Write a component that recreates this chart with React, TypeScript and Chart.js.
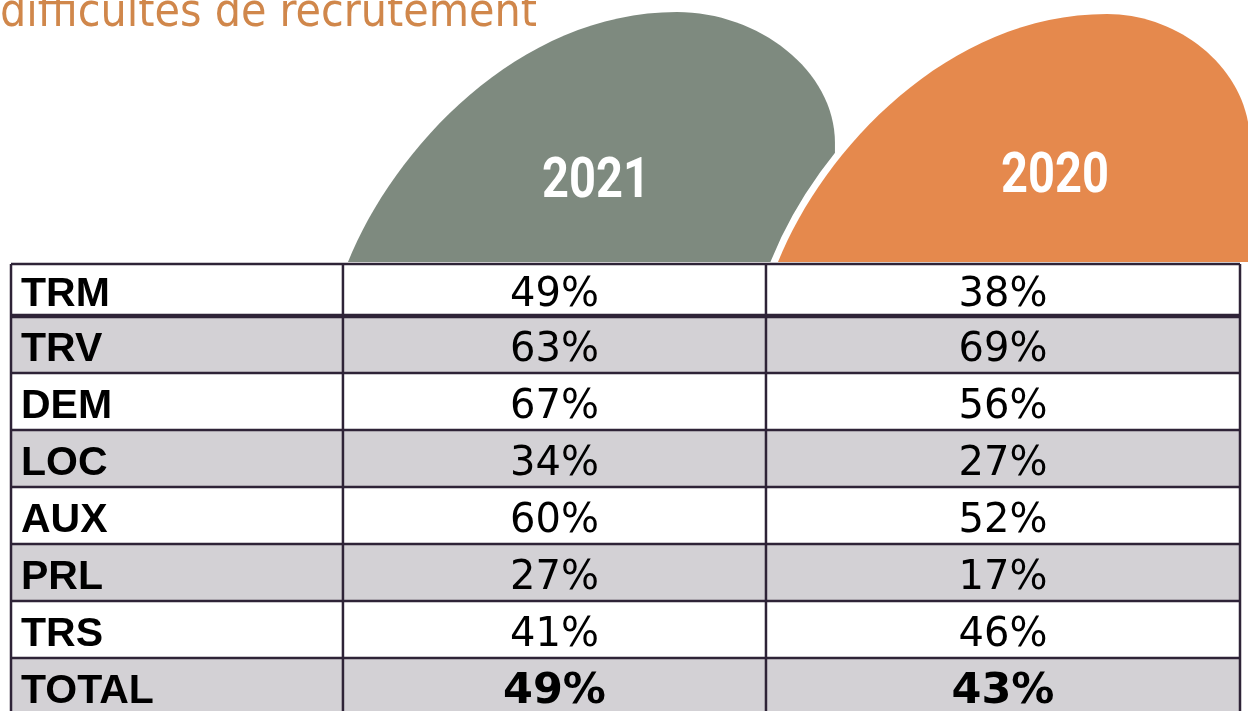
import { useEffect, useRef } from 'react';
import { Chart, registerables } from 'chart.js';

Chart.register(...registerables);

// ---- data ----
const TITLE = 'difficultés de recrutement';
const YEARS = ['2021', '2020'];
const ROW_LABELS = ['TRM', 'TRV', 'DEM', 'LOC', 'AUX', 'PRL', 'TRS', 'TOTAL'];
const VALUES_2021 = [49, 63, 67, 34, 60, 27, 41, 49];
const VALUES_2020 = [38, 69, 56, 27, 52, 17, 46, 43];
const SERIES = [VALUES_2021, VALUES_2020];

// ---- layout / style ----
const W = 1248;
const H = 722;
const COLUMN_EDGES = [0, 0.2701, 0.6143, 1]; // fractions of table width (x scale 0..1)
const TOP_TRIM = 0.088; // first row is partly covered by header shapes
const ROW_FILLS = ['#FFFFFF', '#D3D1D5'];
const BORDER = '#2E2337';
const TITLE_COLOR = '#D0874B';
const BLOB_BASE = 262;
const BLOBS = [
  { col: 1, dx: 5, peakY: 12, rightMax: 487, labelDx: 248, labelBase: 197, color: '#7E8A7F', outline: false },
  { col: 2, dx: 12, peakY: 14, rightMax: 472, labelDx: 277, labelBase: 192, color: '#E5894D', outline: true },
];

function blobPath(ctx: CanvasRenderingContext2D, x0: number, base: number, peakY: number, rightMax: number) {
  const px = x0 + 329;
  const k = (rightMax - 329) / 158;
  const r = (v: number) => px + (v - 329) * k;
  ctx.beginPath();
  ctx.moveTo(x0, base);
  ctx.bezierCurveTo(x0 + 45, 150, x0 + 170, peakY, px, peakY);
  ctx.bezierCurveTo(r(410), peakY, r(487), 70, r(487), 143);
  ctx.bezierCurveTo(r(487), 200, r(487), 240, r(485), base);
  ctx.closePath();
}

const tablePlugin = {
  id: 'tablePlugin',
  afterDraw(chart: any) {
    const ctx: CanvasRenderingContext2D = chart.ctx;
    const xs = chart.scales.x;
    const ys = chart.scales.y;
    const area = chart.chartArea;
    ctx.save();
    ctx.fillStyle = '#FFFFFF';
    ctx.fillRect(0, 0, W, H);

    // title
    ctx.fillStyle = TITLE_COLOR;
    ctx.font = '46px "DejaVu Sans Condensed", "DejaVu Sans", Verdana, sans-serif';
    ctx.textAlign = 'left';
    ctx.textBaseline = 'alphabetic';
    ctx.fillText(TITLE, 0, 26);

    const colPx = COLUMN_EDGES.map((e) => xs.getPixelForValue(e));

    // header shapes
    ctx.save();
    ctx.beginPath();
    ctx.rect(0, 0, W, BLOB_BASE + 0.5);
    ctx.clip();
    BLOBS.forEach((b, i) => {
      const x0 = colPx[b.col] + b.dx;
      blobPath(ctx, x0, BLOB_BASE, b.peakY, b.rightMax);
      if (b.outline) {
        ctx.strokeStyle = '#FFFFFF';
        ctx.lineWidth = 14;
        ctx.stroke();
      }
      ctx.fillStyle = b.color;
      ctx.fill();
      ctx.save();
      ctx.translate(x0 + b.labelDx, b.labelBase);
      ctx.scale(0.84, 1);
      ctx.fillStyle = '#FFFFFF';
      ctx.font = 'bold 56px Roboto, "DejaVu Sans", sans-serif';
      ctx.textAlign = 'center';
      ctx.fillText(YEARS[i], 0, 0);
      ctx.restore();
    });
    ctx.restore();

    // cells
    const rowTop = (i: number) => ys.getPixelForValue(Math.max(i, TOP_TRIM));
    const rowBot = (i: number) => ys.getPixelForValue(i + 1);
    ROW_LABELS.forEach((label, i) => {
      const t = rowTop(i);
      const bt = rowBot(i);
      ctx.fillStyle = ROW_FILLS[i % 2];
      ctx.fillRect(area.left, t, area.right - area.left, bt - t);
    });

    // borders
    ctx.strokeStyle = BORDER;
    for (let i = 1; i < ROW_LABELS.length; i++) {
      const y = ys.getPixelForValue(i);
      ctx.lineWidth = i === 1 ? 4.5 : 2.5;
      ctx.beginPath();
      ctx.moveTo(area.left, y);
      ctx.lineTo(area.right, y);
      ctx.stroke();
    }
    ctx.lineWidth = 2.5;
    ctx.beginPath();
    ctx.moveTo(area.left, area.top);
    ctx.lineTo(area.right, area.top);
    ctx.stroke();
    colPx.forEach((x) => {
      ctx.beginPath();
      ctx.moveTo(x, area.top);
      ctx.lineTo(x, area.bottom + 10);
      ctx.stroke();
    });

    // texts
    ctx.fillStyle = '#000000';
    ctx.textBaseline = 'alphabetic';
    ROW_LABELS.forEach((label, i) => {
      const c = (rowTop(i) + rowBot(i)) / 2;
      const base = c + 16.5;
      const isTotal = i === ROW_LABELS.length - 1;
      ctx.textAlign = 'left';
      ctx.font = 'bold 41px "Liberation Sans", Arial, sans-serif';
      ctx.fillText(label, colPx[0] + 10, base);
      SERIES.forEach((vals, s) => {
        const cx = (colPx[s + 1] + colPx[s + 2]) / 2;
        ctx.textAlign = 'center';
        ctx.font = isTotal ? 'bold 43px "DejaVu Sans", sans-serif' : '40px "DejaVu Sans", sans-serif';
        ctx.fillText(vals[i] + '%', cx, isTotal ? base + 0.5 : base);
      });
    });
    ctx.restore();
  },
};

export default function App() {
  const ref = useRef<HTMLCanvasElement>(null);
  useEffect(() => {
    const canvas = ref.current;
    if (!canvas) return;
    const chart = new Chart(canvas, {
      type: 'scatter',
      data: { datasets: [] },
      options: {
        responsive: false,
        animation: false,
        devicePixelRatio: 1,
        layout: { padding: { left: 11, right: 8, top: 264, bottom: 7 } },
        plugins: {
          legend: { display: false },
          tooltip: { enabled: false },
          title: { display: false },
        },
        scales: {
          x: { type: 'linear', min: 0, max: 1, display: false },
          y: { type: 'linear', min: TOP_TRIM, max: ROW_LABELS.length, reverse: true, display: false },
        },
      },
      plugins: [tablePlugin],
    });
    const fonts = (document as any).fonts;
    if (fonts && fonts.load) {
      Promise.all([
        fonts.load('46px "DejaVu Sans Condensed"'),
        fonts.load('40px "DejaVu Sans"'),
        fonts.load('bold 43px "DejaVu Sans"'),
        fonts.load('bold 41px "Liberation Sans"'),
        fonts.load('bold 56px Roboto'),
      ])
        .then(() => chart.update())
        .catch(() => {});
    }
    return () => chart.destroy();
  }, []);
  return (
    <div style={{ position: 'fixed', left: 0, top: 0, width: W, height: 711, overflow: 'hidden', background: '#fff' }}>
      <canvas ref={ref} width={W} height={H} style={{ display: 'block' }} />
    </div>
  );
}
